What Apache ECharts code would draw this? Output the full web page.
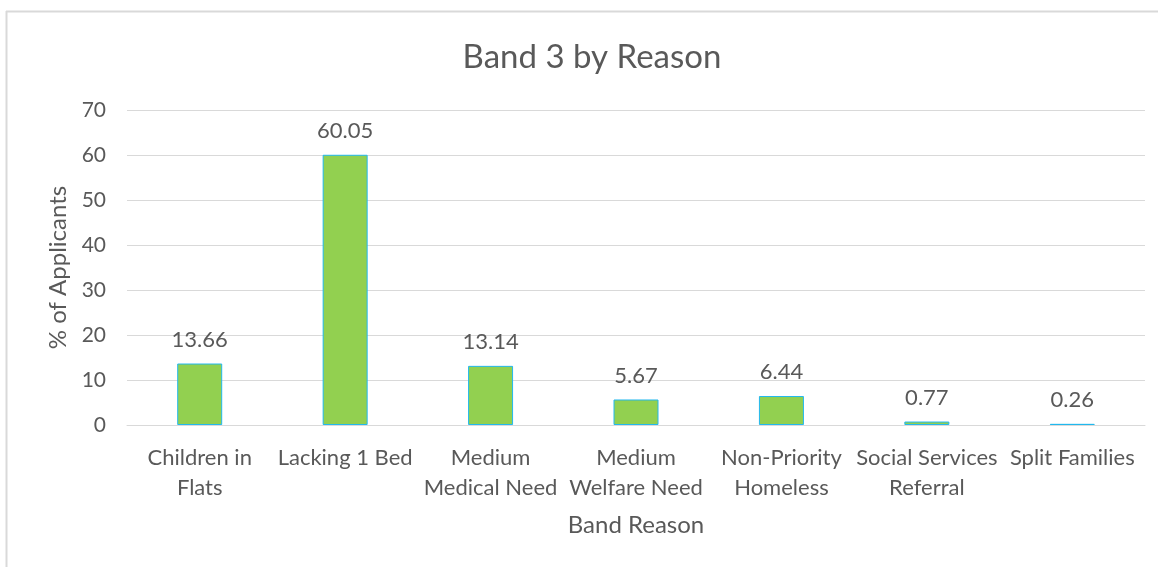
<!DOCTYPE html>
<html>
<head>
<meta charset="utf-8">
<script src="https://cdn.jsdelivr.net/npm/echarts@6/dist/echarts.min.js"></script>
<style>
  html, body { margin: 0; padding: 0; background: #fff; }
  #chart { width: 1158px; height: 567px; }
</style>
</head>
<body>
<div id="chart"></div>
<script>
// Band 3 applicants split by band reason (percent)
const categories = [
  'Children in\nFlats',
  'Lacking 1 Bed',
  'Medium\nMedical Need',
  'Medium\nWelfare Need',
  'Non-Priority\nHomeless',
  'Social Services\nReferral',
  'Split Families'
];
const percentages = [13.66, 60.05, 13.14, 5.67, 6.44, 0.77, 0.26];
const yTicks = { min: 0, max: 70, step: 10 };

const textColor = '#595959';
const fontFamily = 'Lato, "Open Sans", sans-serif';

const chart = echarts.init(document.getElementById('chart'));
chart.setOption({
  backgroundColor: '#ffffff',
  animation: false,
  textStyle: { fontFamily: fontFamily, color: textColor },
  graphic: [
    // frame around the chart area (top and left edges)
    { type: 'line', shape: { x1: 6, y1: 11.5, x2: 1158, y2: 11.5 }, style: { stroke: '#d9d9d9', lineWidth: 2 } },
    { type: 'line', shape: { x1: 6.5, y1: 11, x2: 6.5, y2: 567 }, style: { stroke: '#d9d9d9', lineWidth: 2 } }
  ],
  title: {
    text: 'Band 3 by Reason',
    left: 587,
    textAlign: 'center',
    top: 36,
    textStyle: { fontFamily: fontFamily, fontSize: 33, fontWeight: 'normal', color: textColor }
  },
  grid: { left: 127, right: 13, top: 110, bottom: 142 },
  xAxis: {
    type: 'category',
    data: categories,
    name: 'Band Reason',
    nameLocation: 'middle',
    nameGap: 88,
    nameTextStyle: { fontFamily: fontFamily, fontSize: 24, color: textColor },
    axisLine: { lineStyle: { color: '#d9d9d9', width: 1 } },
    axisTick: { show: false },
    axisLabel: {
      interval: 0,
      margin: 18,
      fontFamily: fontFamily,
      fontSize: 22,
      lineHeight: 30,
      color: textColor
    }
  },
  yAxis: {
    type: 'value',
    min: yTicks.min,
    max: yTicks.max,
    interval: yTicks.step,
    name: '% of Applicants',
    nameLocation: 'middle',
    nameGap: 56,
    nameTextStyle: { fontFamily: fontFamily, fontSize: 24, color: textColor },
    axisLine: { show: false },
    axisTick: { show: false },
    axisLabel: { margin: 21, fontFamily: fontFamily, fontSize: 21, color: textColor },
    splitLine: { lineStyle: { color: '#d9d9d9', width: 1 } }
  },
  series: [{
    type: 'bar',
    data: percentages,
    barWidth: 45,
    itemStyle: { color: '#92d050', borderColor: '#22b8ee', borderWidth: 1 },
    label: {
      show: true,
      position: 'top',
      distance: 13,
      formatter: p => p.value.toFixed(2),
      fontFamily: fontFamily,
      fontSize: 22,
      color: textColor
    }
  }]
});
</script>
</body>
</html>
